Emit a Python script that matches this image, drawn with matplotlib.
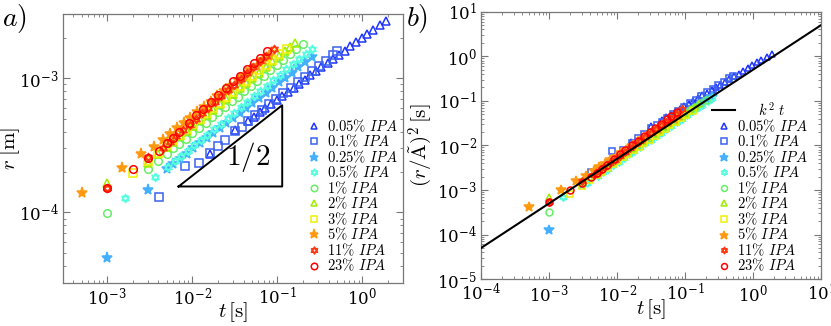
import matplotlib
matplotlib.use("Agg")
import matplotlib.pyplot as plt
from matplotlib.path import Path
import numpy as np

plt.rcParams['mathtext.fontset'] = 'cm'
plt.rcParams['font.family'] = 'DejaVu Serif'

# outlined six-pointed star (two overlapping triangles), like the MATLAB hexagram
_up = [(0, 1), (-0.866, -0.5), (0.866, -0.5), (0, 1)]
_dn = [(0, -1), (-0.866, 0.5), (0.866, 0.5), (0, -1)]
hexagram = Path(_up + _dn, [Path.MOVETO, Path.LINETO, Path.LINETO, Path.CLOSEPOLY] * 2)

# ---- data: t [s], r [m] ----
labels = ['0.05', '0.1', '0.25', '0.5', '1', '2', '3', '5', '11', '23']
colors = ['#2035ff', '#3a62f0', '#45b0ff', '#55ffe0', '#66ee66',
          '#a0ee00', '#f0f000', '#ff9a10', '#ff3a10', '#ff0000']
markers = ['^', 's', '*', hexagram, 'o', '^', 's', '*', hexagram, 'o']
filled = [False, False, True, False, False, False, False, True, False, False]

t_005 = [0.016, 0.032, 0.045, 0.053, 0.062, 0.072, 0.084, 0.098, 0.114, 0.133, 0.155, 0.18, 0.21,
         0.245, 0.285, 0.33, 0.39, 0.45, 0.53, 0.62, 0.72, 0.84, 0.98, 1.14, 1.33, 1.6, 1.9]
r_005 = [2.7e-4, 4.1e-4, 4.8e-4, 5.15e-4, 5.55e-4, 5.95e-4, 6.4e-4, 6.85e-4, 7.35e-4, 7.9e-4, 8.5e-4,
         9.1e-4, 9.7e-4, 1.05e-3, 1.12e-3, 1.2e-3, 1.3e-3, 1.38e-3, 1.49e-3, 1.6e-3, 1.72e-3, 1.85e-3,
         2.0e-3, 2.13e-3, 2.28e-3, 2.48e-3, 2.66e-3]

t_01 = [0.0041, 0.0083, 0.0121, 0.0163, 0.0203, 0.0245, 0.032, 0.038, 0.045, 0.055, 0.066, 0.08,
        0.097, 0.118, 0.143, 0.173, 0.21, 0.255, 0.31, 0.375, 0.45, 0.5]
r_01 = [1.31e-4, 2.23e-4, 2.32e-4, 2.75e-4, 3.13e-4, 3.46e-4, 4.05e-4, 4.35e-4, 4.8e-4, 5.3e-4,
        5.8e-4, 6.4e-4, 7.0e-4, 7.7e-4, 8.5e-4, 9.3e-4, 1.02e-3, 1.12e-3, 1.23e-3, 1.35e-3, 1.48e-3, 1.58e-3]

t_025 = [0.001, 0.003, 0.005, 0.006, 0.0072, 0.0086, 0.0103, 0.0123, 0.0147, 0.0176, 0.021, 0.025,
         0.03, 0.036, 0.043, 0.051, 0.061, 0.073, 0.087, 0.104, 0.124, 0.148, 0.177, 0.21, 0.253]
r_025 = [4.6e-5, 1.47e-4, 2.1e-4, 2.3e-4, 2.5e-4, 2.74e-4, 3.0e-4, 3.26e-4, 3.56e-4, 3.9e-4, 4.24e-4,
         4.62e-4, 5.05e-4, 5.5e-4, 6.0e-4, 6.55e-4, 7.15e-4, 7.8e-4, 8.5e-4, 9.3e-4, 1.01e-3, 1.1e-3,
         1.21e-3, 1.31e-3, 1.44e-3]

t_05 = [0.0016, 0.0036, 0.0052, 0.0062, 0.0074, 0.0088, 0.0105, 0.0125, 0.015, 0.018, 0.0215, 0.026,
        0.031, 0.037, 0.044, 0.053, 0.063, 0.075, 0.09, 0.107, 0.128, 0.152, 0.18, 0.215, 0.253]
r_05 = [1.28e-4, 1.83e-4, 2.19e-4, 2.4e-4, 2.63e-4, 2.88e-4, 3.16e-4, 3.46e-4, 3.8e-4, 4.18e-4, 4.58e-4,
        5.06e-4, 5.54e-4, 6.07e-4, 6.65e-4, 7.3e-4, 8.0e-4, 8.8e-4, 9.6e-4, 1.055e-3, 1.16e-3, 1.27e-3,
        1.38e-3, 1.52e-3, 1.65e-3]

t_1 = [0.001, 0.003, 0.004, 0.005, 0.006, 0.007, 0.0084, 0.01, 0.012, 0.0143, 0.017, 0.0203, 0.024,
       0.029, 0.034, 0.041, 0.049, 0.058, 0.069, 0.082, 0.098, 0.117, 0.14, 0.167, 0.2]
r_1 = [9.9e-5, 2.1e-4, 2.43e-4, 2.72e-4, 3.0e-4, 3.23e-4, 3.55e-4, 3.88e-4, 4.26e-4, 4.66e-4, 5.1e-4,
       5.57e-4, 6.07e-4, 6.7e-4, 7.26e-4, 8.0e-4, 8.75e-4, 9.55e-4, 1.04e-3, 1.14e-3, 1.25e-3, 1.37e-3,
       1.5e-3, 1.64e-3, 1.8e-3]

t_2 = [0.001, 0.003, 0.004, 0.005, 0.006, 0.0072, 0.0086, 0.0103, 0.0123, 0.0147, 0.0176, 0.021,
       0.025, 0.03, 0.036, 0.043, 0.051, 0.061, 0.073, 0.087, 0.104, 0.124, 0.14, 0.161]
r_2 = [1.65e-4, 2.35e-4, 2.72e-4, 3.06e-4, 3.36e-4, 3.69e-4, 4.04e-4, 4.43e-4, 4.85e-4, 5.32e-4,
       5.83e-4, 6.4e-4, 7.0e-4, 7.67e-4, 8.43e-4, 9.24e-4, 1.01e-3, 1.1e-3, 1.21e-3, 1.33e-3, 1.45e-3,
       1.59e-3, 1.69e-3, 1.82e-3]

t_3 = [0.002, 0.003, 0.004, 0.005, 0.006, 0.0072, 0.0086, 0.0103, 0.0123, 0.0147, 0.0176, 0.021,
       0.025, 0.03, 0.036, 0.043, 0.051, 0.061, 0.073, 0.087, 0.104, 0.129]
r_3 = [1.96e-4, 2.4e-4, 2.75e-4, 3.15e-4, 3.46e-4, 3.8e-4, 4.17e-4, 4.57e-4, 5.0e-4, 5.48e-4, 6.0e-4,
       6.58e-4, 7.2e-4, 7.9e-4, 8.68e-4, 9.5e-4, 1.04e-3, 1.14e-3, 1.25e-3, 1.37e-3, 1.5e-3, 1.64e-3]

t_5 = [0.0005, 0.0015, 0.0025, 0.0035, 0.0045, 0.0055, 0.0066, 0.0079, 0.0095, 0.0114, 0.0137, 0.0164,
       0.0197, 0.0236, 0.028, 0.034, 0.04, 0.048, 0.057, 0.068, 0.08]
r_5 = [1.39e-4, 2.13e-4, 2.7e-4, 3.08e-4, 3.49e-4, 3.86e-4, 4.23e-4, 4.63e-4, 5.07e-4, 5.56e-4, 6.09e-4,
       6.67e-4, 7.3e-4, 8.0e-4, 8.7e-4, 9.6e-4, 1.04e-3, 1.14e-3, 1.24e-3, 1.36e-3, 1.47e-3]

t_11 = [0.001, 0.003, 0.0045, 0.0055, 0.0065, 0.0078, 0.0093, 0.011, 0.013, 0.0155, 0.0185, 0.022,
        0.026, 0.031, 0.037, 0.044, 0.052, 0.062, 0.074, 0.091]
r_11 = [1.52e-4, 2.6e-4, 3.0e-4, 3.35e-4, 3.68e-4, 4.09e-4, 4.51e-4, 4.97e-4, 5.46e-4, 6.03e-4, 6.67e-4,
        7.36e-4, 8.1e-4, 8.95e-4, 9.9e-4, 1.09e-3, 1.2e-3, 1.33e-3, 1.47e-3, 1.65e-3]

t_23 = [0.001, 0.002, 0.003, 0.0041, 0.005, 0.0059, 0.007, 0.0091, 0.0111, 0.0132, 0.0166, 0.0203,
        0.0251, 0.0305, 0.0359, 0.0438, 0.0533, 0.0627, 0.0752]
r_23 = [1.52e-4, 2.1e-4, 2.53e-4, 2.88e-4, 3.27e-4, 3.6e-4, 4.0e-4, 4.6e-4, 5.3e-4, 5.85e-4, 6.66e-4,
        7.48e-4, 8.45e-4, 9.44e-4, 1.036e-3, 1.16e-3, 1.3e-3, 1.42e-3, 1.58e-3]

t_all = [t_005, t_01, t_025, t_05, t_1, t_2, t_3, t_5, t_11, t_23]
r_all = [r_005, r_01, r_025, r_05, r_1, r_2, r_3, r_5, r_11, r_23]

# prefactor A~ for each concentration (panel b rescaling), and k^2 of the fit line
A_tilde = [2.5e-3, 2.6e-3, 4.1e-3, 4.8e-3, 5.5e-3, 6.2e-3, 6.8e-3, 6.8e-3, 6.5e-3, 6.6e-3]
k2 = 0.5
t_fit = [1e-4, 1e1]

fig = plt.figure(figsize=(8.31, 3.26), dpi=100)
ax1 = fig.add_axes([0.0755, 0.133, 0.4095, 0.824])
ax2 = fig.add_axes([0.579, 0.144, 0.409, 0.820])

def style_axis(ax):
    ax.set_xscale('log')
    ax.set_yscale('log')
    for s in ax.spines.values():
        s.set_color('#777777')
        s.set_linewidth(0.9)
    ax.tick_params(which='both', direction='in', top=True, right=True, color='#777777',
                   labelsize=12, labelcolor='black')
    ax.tick_params(which='major', length=5, pad=3)
    ax.tick_params(which='minor', length=2.5)

def mk_kwargs(i, ms):
    kw = dict(linestyle='none', marker=markers[i], markersize=ms, markeredgewidth=1.1,
              color=colors[i], label=r'$%s\%%\ IPA$' % labels[i])
    if not filled[i]:
        kw['markerfacecolor'] = 'none'
    else:
        kw['markersize'] = ms + 2.5
    if markers[i] is hexagram:
        kw['markersize'] = ms + 0.5
    return kw

leg_kw = dict(loc='upper left', frameon=False, fontsize=10.5, handlelength=1.6,
              handletextpad=0.1, labelspacing=-0.06, borderpad=0, borderaxespad=0,
              markerscale=0.85)

# ---- panel a ----
for i in range(len(labels)):
    ax1.plot(t_all[i], r_all[i], **mk_kwargs(i, 5.5))

# slope triangle
tri_t = [6.9e-3, 0.114, 0.114, 6.9e-3]
tri_r = [1.56e-4, 1.56e-4, 6.28e-4, 1.56e-4]
ax1.plot(tri_t, tri_r, color='black', linewidth=1.4)
ax1.text(0.045, 2.6e-4, r'$1/2$', fontsize=21, ha='center', va='center')

style_axis(ax1)
ax1.set_xlim(3e-4, 3)
ax1.set_ylim(3e-5, 3e-3)
ax1.set_xlabel(r'$t\,[\mathrm{s}]$', fontsize=15, labelpad=-6)
ax1.set_ylabel(r'$r\;[\mathrm{m}]$', fontsize=15, labelpad=-2)
ax1.legend(bbox_to_anchor=(0.703, 0.615), **leg_kw)

# ---- panel b ----
ax2.plot(t_fit, [k2 * v for v in t_fit], color='black', linewidth=1.5, zorder=5,
         label=r'$\quad\ \ k^2\ t$')
for i in range(len(labels)):
    tt = np.array(t_all[i])
    yy = (np.array(r_all[i]) / A_tilde[i]) ** 2
    ax2.plot(tt, yy, **mk_kwargs(i, 5.0))

style_axis(ax2)
ax2.set_xlim(1e-4, 1e1)
ax2.set_ylim(1e-5, 1e1)
ax2.set_xlabel(r'$t\,[\mathrm{s}]$', fontsize=15, labelpad=-6)
ax2.set_ylabel(r'$(r/\tilde{\mathrm{A}})^2\,[\mathrm{s}]$', fontsize=15, labelpad=2)
ax2.legend(bbox_to_anchor=(0.679, 0.668), **leg_kw)

fig.text(0.002, 0.995, r'$a)$', fontsize=20, ha='left', va='top')
fig.text(0.489, 0.995, r'$b)$', fontsize=20, ha='left', va='top')

fig.savefig('out.png', dpi=100)
